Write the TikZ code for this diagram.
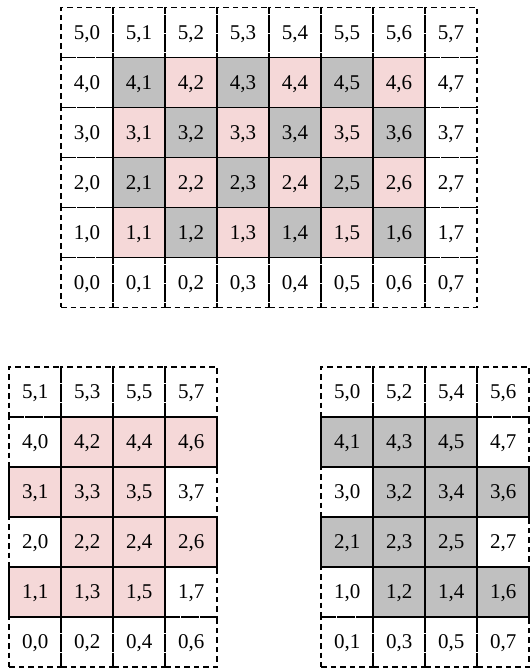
\documentclass[tikz,border=0pt]{standalone}
\usepackage{fontspec}
\setmainfont{Liberation Serif}
\definecolor{pinkc}{HTML}{F5D8D8}
\definecolor{grayc}{HTML}{C0C0C0}
\tikzset{
 cellbase/.style={minimum width=52pt, minimum height=50pt, inner sep=0pt, outer sep=0pt, text depth=0pt, font=\fontsize{21}{25}\selectfont, line width=1.8pt},
 edgecell/.style={cellbase, draw, dash pattern=on 5.5pt off 4pt},
 graycell/.style={cellbase, draw, fill=grayc},
 pinkcell/.style={cellbase, draw, fill=pinkc},
}
\begin{document}
\begin{tikzpicture}[x=1pt,y=1pt]
\useasboundingbox (0,0) rectangle (530,669);
% ---------- top grid ----------
\foreach \r in {0,...,5}{\foreach \c in {0,...,7}{
  \pgfmathtruncatemacro{\isin}{and(and(\r>0,\r<5),and(\c>0,\c<7))}
  \ifnum\isin=0
    \node[edgecell] (t-\r-\c) at ({87+52*\c},{636.5-(5-\r)*50}) {\r,\c};
  \fi
}}
\foreach \r in {1,...,4}{\foreach \c in {1,...,6}{
  \pgfmathtruncatemacro{\odd}{mod(\r+\c,2)}
  \ifnum\odd=1
    \node[graycell] (t-\r-\c) at ({87+52*\c},{636.5-(5-\r)*50}) {\r,\c};
  \else
    \node[pinkcell] (t-\r-\c) at ({87+52*\c},{636.5-(5-\r)*50}) {\r,\c};
  \fi
}}
% ---------- bottom-left grid (pink) ----------
\foreach \r in {0,...,5}{\foreach \k in {0,...,3}{
  \pgfmathtruncatemacro{\c}{2*\k+mod(\r,2)}
  \pgfmathtruncatemacro{\isin}{and(and(\r>0,\r<5),and(\c>0,\c<7))}
  \ifnum\isin=0
    \node[edgecell] (l-\r-\c) at ({35.3+52*\k},{277.3-(5-\r)*50}) {\r,\c};
  \fi
}}
\foreach \r in {0,...,5}{\foreach \k in {0,...,3}{
  \pgfmathtruncatemacro{\c}{2*\k+mod(\r,2)}
  \pgfmathtruncatemacro{\isin}{and(and(\r>0,\r<5),and(\c>0,\c<7))}
  \ifnum\isin=1
    \node[pinkcell] (l-\r-\c) at ({35.3+52*\k},{277.3-(5-\r)*50}) {\r,\c};
  \fi
}}
% ---------- bottom-right grid (gray) ----------
\foreach \r in {0,...,5}{\foreach \k in {0,...,3}{
  \pgfmathtruncatemacro{\c}{2*\k+mod(\r+1,2)}
  \pgfmathtruncatemacro{\isin}{and(and(\r>0,\r<5),and(\c>0,\c<7))}
  \ifnum\isin=0
    \node[edgecell] (g-\r-\c) at ({347.3+52*\k},{277.3-(5-\r)*50}) {\r,\c};
  \fi
}}
\foreach \r in {0,...,5}{\foreach \k in {0,...,3}{
  \pgfmathtruncatemacro{\c}{2*\k+mod(\r+1,2)}
  \pgfmathtruncatemacro{\isin}{and(and(\r>0,\r<5),and(\c>0,\c<7))}
  \ifnum\isin=1
    \node[graycell] (g-\r-\c) at ({347.3+52*\k},{277.3-(5-\r)*50}) {\r,\c};
  \fi
}}
\end{tikzpicture}
\end{document}
